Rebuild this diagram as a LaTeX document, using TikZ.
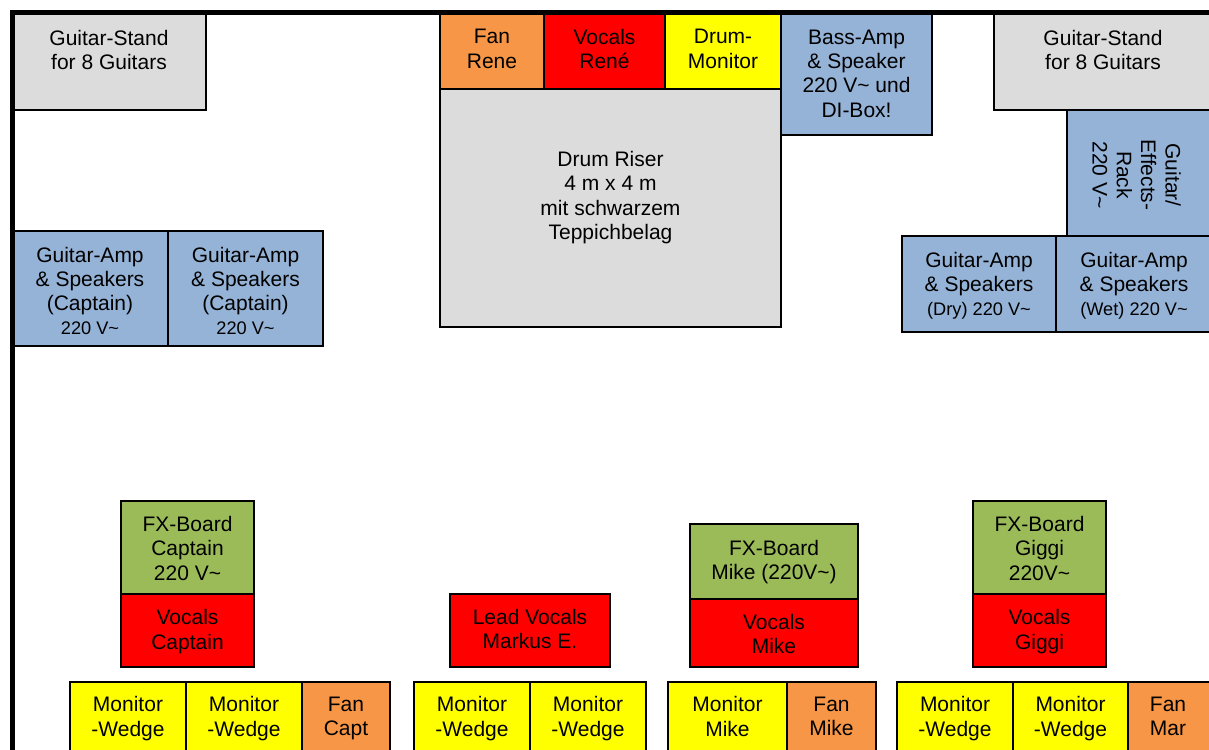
\documentclass[tikz,border=0pt]{standalone}
\usepackage{fontspec}
\setmainfont{Liberation Sans}
\definecolor{stgray}{HTML}{DCDCDC}
\definecolor{stblue}{HTML}{95B3D7}
\definecolor{stgreen}{HTML}{9BBB59}
\definecolor{storange}{HTML}{F79646}
\definecolor{stred}{HTML}{FF0000}
\definecolor{styellow}{HTML}{FFFF00}
\tikzset{
  stagebox/.style={draw=black, line width=1.5pt, inner sep=0pt, outer sep=0pt},
  lbl/.style={align=center, inner sep=0pt, font=\fontsize{21}{24.3}\selectfont,
    execute at begin node={\strut}, execute at end node={\strut}},
}
\newcommand\stgbox[6]{\node[stagebox, fill=#6, anchor=north west,
  minimum width=#4pt-#2pt, minimum height=#5pt-#3pt] (#1) at (#2,#3) {};}
\newcommand\midtxt[1]{{\fontsize{18.2}{24.3}\selectfont #1}}
\begin{document}
\begin{tikzpicture}[x=1pt,y=-1pt]
\useasboundingbox (0,0) rectangle (1209,749);
\clip (0,0) rectangle (1209,749);
% top row
\stgbox{gsl}{12}{12}{206}{110}{stgray}
\node[lbl] (gsl-t) at (109,53.5) {Guitar-Stand\\for 8 Guitars};
\stgbox{fanrene}{440}{12}{544}{89}{storange}
\node[lbl] (fanrene-t) at (492,52.5) {Fan\\Rene};
\stgbox{vocrene}{544}{12}{665}{89}{stred}
\node[lbl] (vocrene-t) at (604.5,52.5) {Vocals\\René};
\stgbox{drummon}{665}{12}{781}{89}{styellow}
\node[lbl] (drummon-t) at (723,52.5) {Drum-\\Monitor};
\stgbox{bass}{781}{12}{932}{135}{stblue}
\node[lbl] (bass-t) at (856.5,77) {Bass-Amp\\\& Speaker\\220 V\textasciitilde{} und\\DI-Box!};
\stgbox{riser}{440}{89}{781}{327}{stgray}
\node[lbl] (riser-t) at (610.5,199) {Drum Riser\\4 m x 4 m\\mit schwarzem\\Teppichbelag};
\stgbox{gsr}{994}{12}{1214}{110}{stgray}
\node[lbl] (gsr-t) at (1103,53.5) {Guitar-Stand\\for 8 Guitars};
\stgbox{rack}{1067}{110}{1214}{236}{stblue}
\node[lbl, rotate=-90] (rack-t) at (1133,175) {Guitar/\\Effects-\\Rack\\220 V\textasciitilde};
\stgbox{dry}{902}{236}{1056}{332}{stblue}
\node[lbl] (dry-t) at (979,287.5) {Guitar-Amp\\\& Speakers\\\midtxt{(Dry) 220 V\textasciitilde}};
\stgbox{wet}{1056}{236}{1214}{332}{stblue}
\node[lbl] (wet-t) at (1134,287.5) {Guitar-Amp\\\& Speakers\\\midtxt{(Wet) 220 V\textasciitilde}};
% captain amps
\stgbox{cap1}{12}{231}{168}{346}{stblue}
\node[lbl] (cap1-t) at (90,294.5) {Guitar-Amp\\\& Speakers\\(Captain)\\\midtxt{220 V\textasciitilde}};
\stgbox{cap2}{168}{231}{323}{346}{stblue}
\node[lbl] (cap2-t) at (245.5,294.5) {Guitar-Amp\\\& Speakers\\(Captain)\\\midtxt{220 V\textasciitilde}};
% bottom: captain
\stgbox{fxcap}{121}{501}{254}{594}{stgreen}
\node[lbl] (fxcap-t) at (187.5,552) {FX-Board\\Captain\\220 V\textasciitilde};
\stgbox{voccap}{121}{594}{254}{667}{stred}
\node[lbl] (voccap-t) at (187.5,633) {Vocals\\Captain};
\stgbox{mon1}{70}{682}{186}{760}{styellow}
\node[lbl] (mon1-t) at (128,720) {Monitor\\-Wedge};
\stgbox{mon2}{186}{682}{302}{760}{styellow}
\node[lbl] (mon2-t) at (244,720) {Monitor\\-Wedge};
\stgbox{fancapt}{302}{682}{390}{760}{storange}
\node[lbl] (fancapt-t) at (346,720) {Fan\\Capt};
% lead vocals
\stgbox{lead}{450}{594}{610}{667}{stred}
\node[lbl] (lead-t) at (530,632.5) {Lead Vocals\\Markus E.};
\stgbox{mon3}{414}{682}{530}{760}{styellow}
\node[lbl] (mon3-t) at (472,720) {Monitor\\-Wedge};
\stgbox{mon4}{530}{682}{646}{760}{styellow}
\node[lbl] (mon4-t) at (588,720) {Monitor\\-Wedge};
% mike
\stgbox{fxmike}{690}{524}{858}{599}{stgreen}
\node[lbl] (fxmike-t) at (774,563.5) {FX-Board\\Mike (220V\textasciitilde)};
\stgbox{vocmike}{690}{599}{858}{667}{stred}
\node[lbl] (vocmike-t) at (774,637.5) {Vocals\\Mike};
\stgbox{monmike}{668}{682}{787}{760}{styellow}
\node[lbl] (monmike-t) at (727.5,720) {Monitor\\Mike};
\stgbox{fanmike}{787}{682}{876}{760}{storange}
\node[lbl] (fanmike-t) at (831.5,720) {Fan\\Mike};
% giggi
\stgbox{fxgiggi}{973}{501}{1106}{594}{stgreen}
\node[lbl] (fxgiggi-t) at (1039.5,552) {FX-Board\\Giggi\\220V\textasciitilde};
\stgbox{vocgiggi}{973}{594}{1106}{667}{stred}
\node[lbl] (vocgiggi-t) at (1039.5,633) {Vocals\\Giggi};
\stgbox{mon5}{897}{682}{1013}{760}{styellow}
\node[lbl] (mon5-t) at (955,720) {Monitor\\-Wedge};
\stgbox{mon6}{1013}{682}{1128}{760}{styellow}
\node[lbl] (mon6-t) at (1070.5,720) {Monitor\\-Wedge};
\stgbox{fanmar}{1128}{682}{1210}{760}{storange}
\node[lbl] (fanmar-t) at (1168,720) {Fan\\Mar};
% stage frame
\draw[line width=5pt] (12.5,770) -- (12.5,12.5) -- (1230,12.5);
\end{tikzpicture}
\end{document}
